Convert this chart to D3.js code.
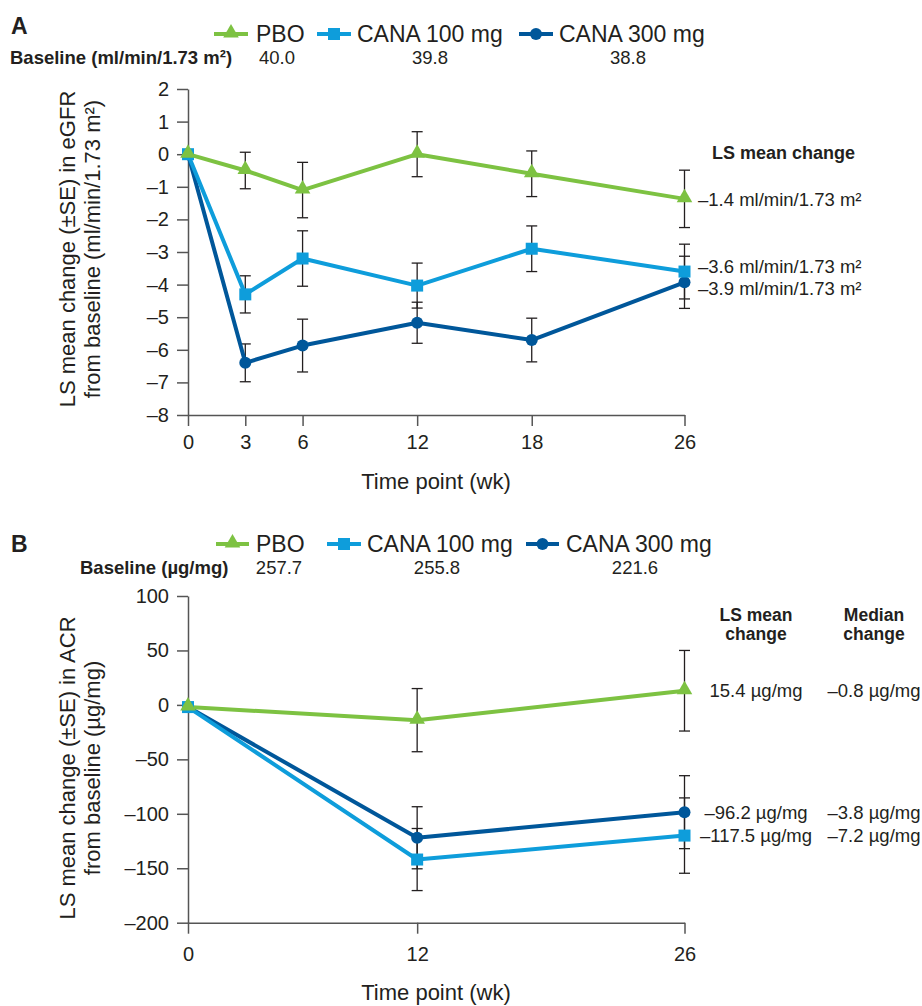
<!DOCTYPE html>
<html>
<head>
<meta charset="utf-8">
<script src="https://cdn.jsdelivr.net/npm/d3@7"></script>
<style>
  body { margin: 0; background: #fff; }
  svg { display: block; font-family: 'Liberation Sans', Arial, Helvetica, sans-serif; }
</style>
</head>
<body>
<svg id="chart" width="922" height="1006"></svg>
<script>
// ---- data ----
const seriesNames = ['PBO', 'CANA 100 mg', 'CANA 300 mg'];

// panel A: eGFR
const weeksA = [0, 3, 6, 12, 18, 26];
const pboA = [0, -0.5, -1.1, 0, -0.6, -1.37];
const pboSeA = [0, 0.56, 0.85, 0.69, 0.7, 0.88];
const cana100A = [0, -4.3, -3.2, -4.03, -2.9, -3.6];
const cana100SeA = [0, 0.57, 0.85, 0.69, 0.7, 0.84];
const cana300A = [0, -6.4, -5.87, -5.17, -5.7, -3.93];
const cana300SeA = [0, 0.58, 0.81, 0.63, 0.67, 0.8];
const yTicksA = [2, 1, 0, -1, -2, -3, -4, -5, -6, -7, -8];
const baselineA = ['40.0', '39.8', '38.8'];
const lsChangeA = ['–1.4 ml/min/1.73 m²', '–3.6 ml/min/1.73 m²', '–3.9 ml/min/1.73 m²'];

// panel B: ACR
const weeksB = [0, 12, 26];
const pboB = [-2, -14, 13];
const pboSeB = [0, 29, 37];
const cana100B = [-2, -142, -120];
const cana100SeB = [0, 28.5, 34.6];
const cana300B = [-2, -122, -98.5];
const cana300SeB = [0, 28.5, 33.5];
const yTicksB = [100, 50, 0, -50, -100, -150, -200];
const baselineB = ['257.7', '255.8', '221.6'];
const lsChangeB = ['15.4 µg/mg', '–117.5 µg/mg', '–96.2 µg/mg'];
const medianChangeB = ['–0.8 µg/mg', '–7.2 µg/mg', '–3.8 µg/mg'];

const colors = ['#7dc242', '#0e9ddb', '#00579a'];
const shapes = ['triangle', 'square', 'circle'];
const textColor = '#231f20';
const axisColor = '#555';

const svg = d3.select('#chart');
const x = d3.scaleLinear().domain([0, 26]).range([188, 684.5]);
const fmt = d => String(d).replace('-', '–');

function marker(g, shape, color, cx, cy) {
  if (shape === 'circle') {
    g.append('circle').attr('cx', cx).attr('cy', cy).attr('r', 6).attr('fill', color);
  } else if (shape === 'square') {
    g.append('rect').attr('x', cx - 6).attr('y', cy - 6).attr('width', 12).attr('height', 12).attr('fill', color);
  } else {
    g.append('path')
      .attr('d', d3.symbol().type(d3.symbolTriangle).size(105)())
      .attr('transform', `translate(${cx},${cy - 1})`)
      .attr('fill', color);
  }
}

function drawPanel(p) {
  const g = svg.append('g');
  const y = d3.scaleLinear().domain(p.yDomain).range(p.yRange);

  // panel letter
  g.append('text').attr('x', 11).attr('y', p.letterY).attr('font-size', 23).attr('font-weight', 'bold')
    .attr('fill', textColor).text(p.letter);

  // legend
  p.legend.forEach((l, i) => {
    g.append('line').attr('x1', l[0]).attr('x2', l[1]).attr('y1', p.legendY).attr('y2', p.legendY)
      .attr('stroke', colors[i]).attr('stroke-width', 4);
    marker(g, shapes[i], colors[i], (l[0] + l[1]) / 2, p.legendY);
    g.append('text').attr('x', l[2]).attr('y', p.legendY).attr('dy', '0.36em').attr('font-size', 23)
      .attr('fill', textColor).text(seriesNames[i]);
  });

  // baseline row
  g.append('text').attr('x', p.baseLabelX).attr('y', p.baseY).attr('dy', '0.36em').attr('font-size', 18.5)
    .attr('font-weight', 'bold').attr('fill', textColor).text(p.baseLabel);
  p.baseline.forEach((v, i) => {
    g.append('text').attr('x', p.baseX[i]).attr('y', p.baseY).attr('dy', '0.36em').attr('font-size', 18.5)
      .attr('text-anchor', 'middle').attr('fill', textColor).text(v);
  });

  // axes
  const yAxis = g.append('g').attr('transform', `translate(${x(0)},0)`)
    .call(d3.axisLeft(y).tickValues(p.yTicks).tickFormat(fmt).tickSize(11).tickSizeOuter(0).tickPadding(8));
  const xAxis = g.append('g').attr('transform', `translate(0,${p.yRange[0]})`)
    .call(d3.axisBottom(x).tickValues(p.weeks).tickSize(11).tickSizeOuter(0).tickPadding(p.xPad));
  [yAxis, xAxis].forEach(a => {
    a.selectAll('path, line').attr('stroke', axisColor).attr('stroke-width', 1.5);
    a.selectAll('text').attr('font-size', 20).attr('fill', textColor).attr('font-family', null);
  });

  // axis titles
  p.yTitle.forEach((t, i) => {
    g.append('text').attr('transform', `translate(${[67, 92][i]},${p.yTitleY}) rotate(-90)`)
      .attr('text-anchor', 'middle').attr('dy', '0.36em').attr('font-size', 22).attr('fill', textColor).text(t);
  });
  g.append('text').attr('x', 436).attr('y', p.xTitleY).attr('text-anchor', 'middle').attr('font-size', 22)
    .attr('fill', textColor).text('Time point (wk)');

  const series = [p.pbo, p.c100, p.c300];
  const ses = [p.pboSe, p.c100Se, p.c300Se];

  // error bars
  const eb = g.append('g').attr('stroke', textColor).attr('stroke-width', 1.3);
  series.forEach((s, k) => {
    s.forEach((v, i) => {
      const se = ses[k][i];
      if (!se) return;
      const cx = x(p.weeks[i]);
      eb.append('line').attr('x1', cx).attr('x2', cx).attr('y1', y(v + se)).attr('y2', y(v - se));
      [v + se, v - se].forEach(e => {
        eb.append('line').attr('x1', cx - 5.5).attr('x2', cx + 5.5).attr('y1', y(e)).attr('y2', y(e));
      });
    });
  });

  // lines and markers (PBO on top)
  const line = d3.line().x((d, i) => x(p.weeks[i])).y(d => y(d));
  [2, 1, 0].forEach(k => {
    g.append('path').attr('d', line(series[k])).attr('fill', 'none')
      .attr('stroke', colors[k]).attr('stroke-width', 4).attr('stroke-linejoin', 'round');
  });
  [2, 1, 0].forEach(k => {
    series[k].forEach((v, i) => marker(g, shapes[k], colors[k], x(p.weeks[i]), y(v)));
  });

  return { g, y };
}

// ---- panel A ----
const A = drawPanel({
  letter: 'A', letterY: 34, legendY: 34,
  legend: [[214, 248, 256], [317, 351, 357], [519, 553, 559]],
  baseLabel: 'Baseline (ml/min/1.73 m²)', baseLabelX: 10, baseY: 57,
  baseline: baselineA, baseX: [277, 430, 628],
  yDomain: [-8, 2], yRange: [415, 89], yTicks: yTicksA, weeks: weeksA, xPad: 9,
  yTitle: ['LS mean change (±SE) in eGFR', 'from baseline (ml/min/1.73 m²)'], yTitleY: 249,
  xTitleY: 489,
  pbo: pboA, pboSe: pboSeA, c100: cana100A, c100Se: cana100SeA, c300: cana300A, c300Se: cana300SeA
});
A.g.append('text').attr('x', 712).attr('y', 153).attr('dy', '0.36em').attr('font-size', 18)
  .attr('font-weight', 'bold').attr('fill', textColor).text('LS mean change');
const lastA = [pboA[5], cana100A[5], cana300A[5]];
const offA = [0, -5, 6];
lsChangeA.forEach((t, i) => {
  A.g.append('text').attr('x', 698).attr('y', A.y(lastA[i]) + offA[i]).attr('dy', '0.36em')
    .attr('font-size', 18.5).attr('fill', textColor).text(t);
});

// ---- panel B ----
const B = drawPanel({
  letter: 'B', letterY: 552, legendY: 544,
  legend: [[216, 249, 256], [327, 361, 367], [526, 559, 566]],
  baseLabel: 'Baseline (µg/mg)', baseLabelX: 80, baseY: 567,
  baseline: baselineB, baseX: [279, 437, 635],
  yDomain: [-200, 100], yRange: [922.7, 596], yTicks: yTicksB, weeks: weeksB, xPad: 13,
  yTitle: ['LS mean change (±SE) in ACR', 'from baseline (µg/mg)'], yTitleY: 768,
  xTitleY: 1000,
  pbo: pboB, pboSe: pboSeB, c100: cana100B, c100Se: cana100SeB, c300: cana300B, c300Se: cana300SeB
});
[['LS mean', 'change', 756], ['Median', 'change', 874]].forEach(h => {
  [h[0], h[1]].forEach((t, j) => {
    B.g.append('text').attr('x', h[2]).attr('y', 615 + j * 18.5).attr('dy', '0.36em').attr('text-anchor', 'middle')
      .attr('font-size', 17.5).attr('font-weight', 'bold').attr('fill', textColor).text(t);
  });
});
const lastB = [pboB[2], cana100B[2], cana300B[2]];
lsChangeB.forEach((t, i) => {
  const yy = B.y(lastB[i]);
  B.g.append('text').attr('x', 756).attr('y', yy).attr('dy', '0.36em').attr('text-anchor', 'middle')
    .attr('font-size', 18.5).attr('fill', textColor).text(t);
  B.g.append('text').attr('x', 874).attr('y', yy).attr('dy', '0.36em').attr('text-anchor', 'middle')
    .attr('font-size', 18.5).attr('fill', textColor).text(medianChangeB[i]);
});
</script>
</body>
</html>
